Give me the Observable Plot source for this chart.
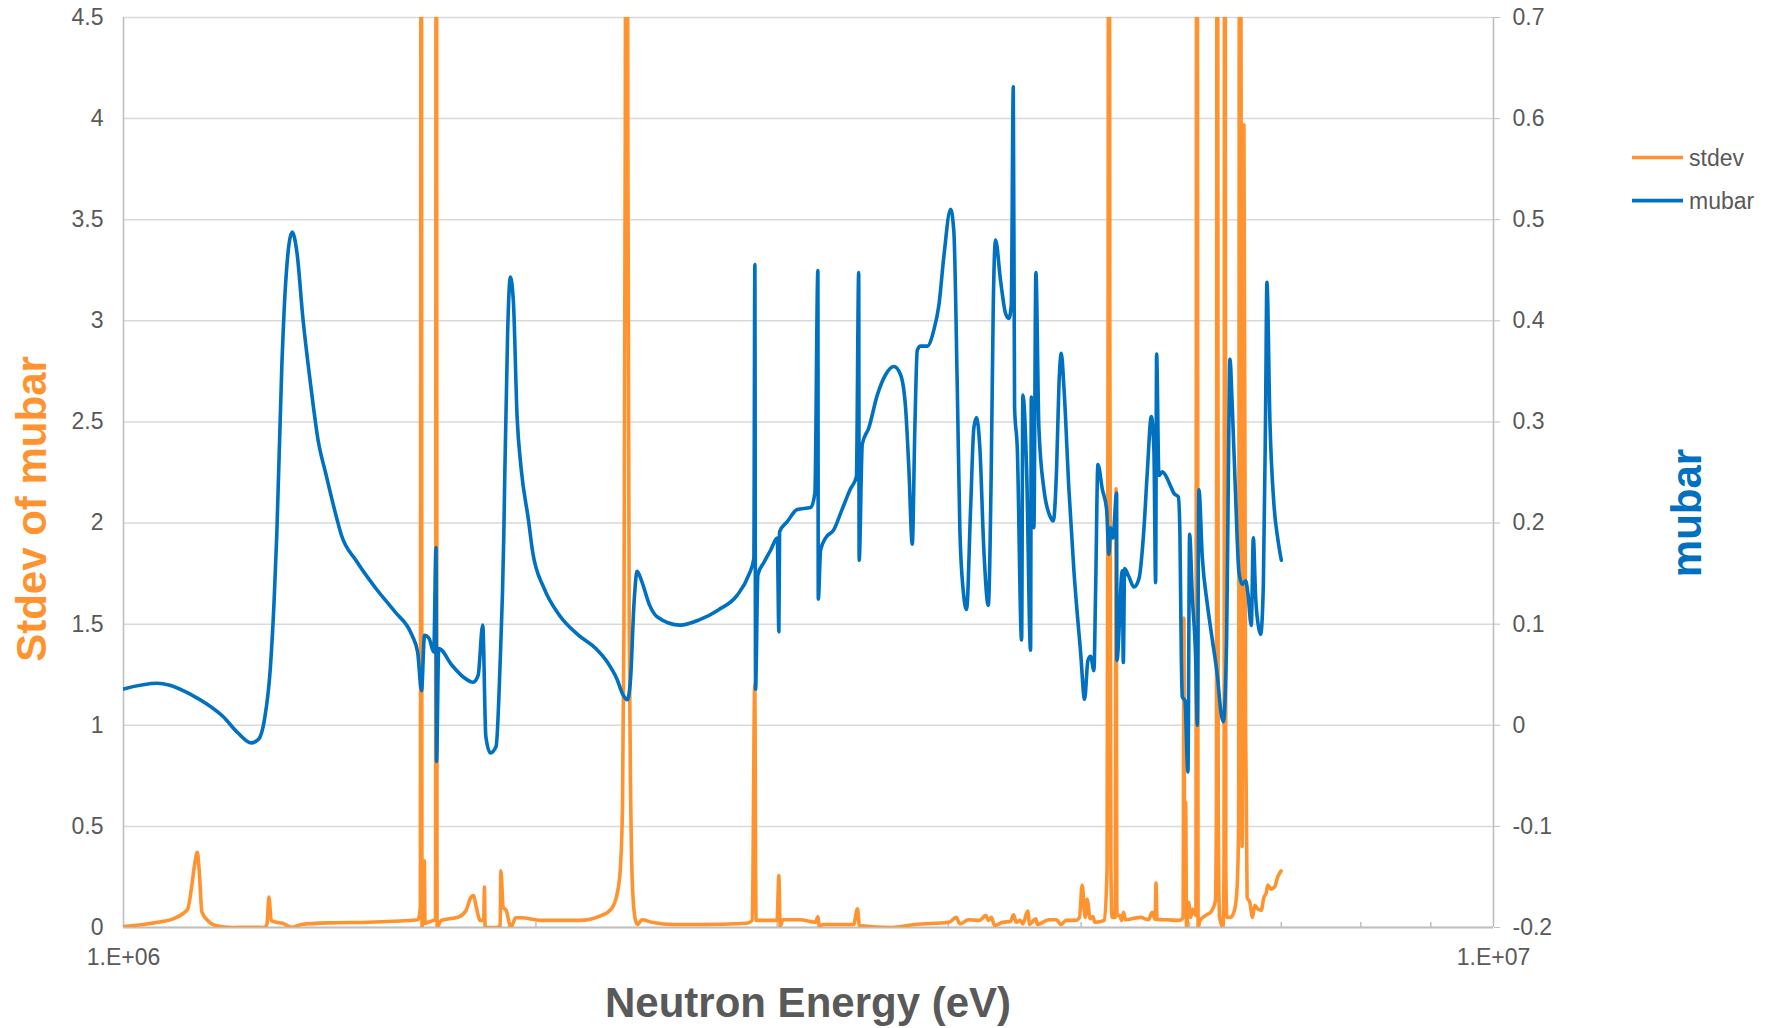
<!DOCTYPE html>
<html>
<head>
<meta charset="utf-8">
<script src="https://cdn.jsdelivr.net/npm/d3@7"></script>
<script src="https://cdn.jsdelivr.net/npm/@observablehq/plot@0.6"></script>
<style>
  html, body { margin: 0; padding: 0; background: #ffffff; }
  #chart svg { display: block; }
</style>
</head>
<body>
<div id="chart"></div>
<script>
// ---------------- DATA ----------------
// mubar series (right axis): neutron energy in MeV and mubar value
const energyMubarMeV = [
  1.0000,1.0586,1.0793,1.1218,1.1511,1.1811,1.2118,1.2394,1.2553,1.2674,
  1.2798,1.2880,1.2939,1.3048,1.3132,1.3277,1.3388,1.3517,1.3693,1.3870,
  1.4050,1.4324,1.4416,1.4792,1.5274,1.5775,1.6238,1.6394,1.6502,1.6585,
  1.6714,1.6844,1.6909,1.6923,1.6986,1.7373,1.7709,1.7997,1.8149,1.8290,
  1.8385,1.8528,1.8706,1.8826,1.8950,1.8985,1.9071,1.9158,1.9255,1.9378,
  1.9505,1.9753,1.9886,2.0271,2.0799,2.1481,2.2118,2.2550,2.2917,2.3138,
  2.3318,2.3439,2.3590,2.3709,2.3893,2.4205,2.4516,2.5483,2.6314,2.7177,
  2.8054,2.8607,2.8848,2.8897,2.8931,2.9043,2.9337,2.9670,3.0006,3.0087,
  3.0122,3.0515,3.1032,3.1734,3.1964,3.2125,3.2147,3.2272,3.2544,3.2991,
  3.3460,3.3930,3.4274,3.4407,3.4433,3.4614,3.5000,3.5498,3.5996,3.6502,
  3.6915,3.7226,3.7434,3.7648,3.7813,3.7966,3.8177,3.8609,3.9040,3.9370,
  3.9702,4.0152,4.0375,4.0606,4.0784,4.1018,4.1246,4.1524,4.1755,4.1945,
  4.2178,4.2463,4.2778,4.2994,4.3139,4.3306,4.3672,4.4041,4.4286,4.4465,
  4.4615,4.4712,4.4916,4.5242,4.5341,4.5624,4.5931,4.5986,4.6187,4.6342,
  4.6576,4.6970,4.7502,4.7718,4.7983,4.8169,4.8364,4.8576,4.8986,4.9399,
  4.9959,5.0296,5.0576,5.0806,5.1089,5.1235,5.1434,5.1815,5.2191,5.2393,
  5.2543,5.2747,5.3076,5.3103,5.3587,5.3677,5.3795,5.4185,5.4642,5.5103,
  5.5568,5.5887,5.6264,5.6510,5.6672,5.6767,5.6987,5.7314,5.7633,5.8119,
  5.8442,5.8876,5.9035,5.9174,5.9273,5.9533,5.9834,6.0005,6.0278,6.0614,
  6.0787,6.0951,6.1300,6.1817,6.2339,6.2865,6.3289,6.3502,6.3855,6.4038,
  6.4210,6.4470,6.4829,6.5189,6.5563,6.5928,6.6183,6.6562,6.6786,6.7045,
  6.7418,6.7611,6.7919,6.8182,6.8331,6.8677,6.9140,6.9606,7.0005
];
const mubar = [
  0.036,0.0415,0.0399,0.0299,0.0209,0.0092,-0.0074,-0.0174,-0.0135,0.0058,
  0.0558,0.1225,0.189,0.3542,0.4367,0.4877,0.4664,0.4037,0.3378,0.2817,
  0.2488,0.2026,0.189,0.1624,0.1358,0.1125,0.0891,0.0725,0.0342,0.0891,
  0.0859,0.0725,0.1758,-0.0358,0.076,0.0591,0.0475,0.0425,0.0493,0.0991,
  -0.0108,-0.0274,-0.0208,0.0558,0.189,0.2553,0.3872,0.4432,0.4202,0.3047,
  0.2553,0.2026,0.1724,0.1358,0.1091,0.0891,0.0759,0.0625,0.0458,0.0309,
  0.0252,0.0425,0.1225,0.1524,0.1424,0.1191,0.1074,0.0991,0.1042,0.1141,
  0.1287,0.1489,0.165,0.4557,0.0358,0.1489,0.161,0.1731,0.1852,0.0924,
  0.1913,0.2014,0.2135,0.2154,0.2296,0.4497,0.1246,0.1731,0.1852,0.1933,
  0.2135,0.2336,0.2458,0.4477,0.163,0.278,0.2943,0.3265,0.3467,0.3548,
  0.3467,0.3143,0.2538,0.1791,0.2943,0.3709,0.375,0.375,0.3911,0.4153,
  0.4638,0.5102,0.488,0.3346,0.1933,0.1327,0.1145,0.2135,0.2943,0.3044,
  0.274,0.1731,0.1186,0.2538,0.4153,0.4799,0.4396,0.4073,0.4024,0.4153,
  0.6314,0.3143,0.274,0.0843,0.3265,0.2538,0.0742,0.3245,0.1954,0.4477,
  0.2943,0.2336,0.2054,0.2022,0.2538,0.3346,0.3678,0.3346,0.2336,0.1529,
  0.0722,0.0257,0.0641,0.0682,0.054,0.1327,0.2579,0.2336,0.2135,0.169,
  0.1954,0.1852,0.2296,0.0641,0.1529,0.0621,0.1549,0.1469,0.1368,0.1448,
  0.1941,0.2506,0.3053,0.2718,0.1411,0.3672,0.2471,0.2506,0.2471,0.2365,
  0.2294,0.2259,0.1906,0.067,0.0281,0.0245,-0.0461,0.1888,0.127,0.067,
  0.0,0.2329,0.1659,0.1199,0.0846,0.0493,0.0104,0.0034,0.0846,0.2435,
  0.3619,0.3142,0.2259,0.1517,0.1394,0.1428,0.1305,0.0987,0.1853,0.127,
  0.0952,0.0899,0.1376,0.3142,0.438,0.3001,0.2184,0.1836,0.1632
];

// stdev series (left axis): neutron energy in MeV and standard deviation of mubar
const energyStdevMeV = [
  1.0000,1.0595,1.0871,1.1048,1.1141,1.1213,1.1264,1.1321,1.1357,1.1409,
  1.1520,1.1668,1.2011,1.2365,1.2670,1.2728,1.2769,1.2818,1.2932,1.3059,
  1.3272,1.3485,1.4152,1.5093,1.6408,1.6469,1.6494,1.6516,1.6580,1.6600,
  1.6675,1.6838,1.6894,1.6917,1.6940,1.7054,1.7555,1.7784,1.7934,1.8012,
  1.8094,1.8211,1.8321,1.8343,1.8364,1.8723,1.8834,1.8856,1.8929,1.9028,
  1.9175,1.9334,1.9521,2.0158,2.1497,2.2343,2.2705,2.2924,2.3044,2.3133,
  2.3191,2.3242,2.3290,2.3341,2.3395,2.3458,2.3525,2.3644,2.3720,2.3905,
  2.4295,2.5248,2.6376,2.8491,2.8770,2.8892,2.8955,2.9996,3.0087,3.0152,
  3.0289,3.1178,3.1990,3.2136,3.2196,3.2407,3.4117,3.4336,3.4446,3.6386,
  3.7813,4.0068,4.0528,4.0795,4.1376,4.2182,4.2588,4.2797,4.3006,4.3223,
  4.3839,4.4409,4.4634,4.4837,4.5133,4.5331,4.5713,4.5860,4.6161,4.6332,
  4.6457,4.7362,4.7971,4.8344,4.8752,4.9540,4.9866,5.0093,5.0346,5.0508,
  5.0772,5.1003,5.1166,5.1998,5.2235,5.2323,5.2393,5.2473,5.2570,5.2667,
  5.2950,5.3030,5.3103,5.3344,5.3523,5.3695,5.3867,5.5269,5.5982,5.6350,
  5.6625,5.6711,5.6806,5.7818,5.8945,5.9353,5.9433,5.9513,5.9603,5.9703,
  5.9904,6.0106,6.0309,6.0644,6.0746,6.0869,6.1064,6.1661,6.2254,6.2664,
  6.2769,6.2865,6.2959,6.3107,6.3469,6.3575,6.3672,6.3769,6.3876,6.4284,
  6.4708,6.4991,6.5154,6.5297,6.5540,6.5738,6.5928,6.6093,6.6394,6.6696,
  6.6955,6.7249,6.7678,6.7986,6.8249,6.8433,6.8779,6.9219,6.9581,6.9980
];
const stdev = [
  0.005,0.026,0.043,0.068,0.092,0.2,0.3,0.372,0.28,0.076,
  0.035,0.01,0.0,0.0015,0.0,0.018,0.15,0.035,0.026,0.021,
  0.0015,0.015,0.023,0.026,0.038,0.1,8,0.0,0.33,0.02,
  0.026,0.035,0.04,8,0.0,0.035,0.051,0.084,0.15,0.158,
  0.1,0.035,0.035,0.2,0.0015,0.0,0.01,0.28,0.1,0.084,
  0.0015,0.048,0.048,0.035,0.035,0.06,0.092,0.166,0.28,0.6,
  1.5,4.0,9,4.0,1.5,0.6,0.2,0.035,0.015,0.038,
  0.026,0.015,0.015,0.021,0.035,1.2,0.035,0.035,0.257,0.005,
  0.038,0.038,0.026,0.054,0.005,0.015,0.015,0.092,0.01,0.0,
  0.015,0.026,0.05,0.018,0.038,0.035,0.06,0.035,0.05,0.01,
  0.026,0.03,0.063,0.026,0.035,0.018,0.081,0.015,0.035,0.043,
  0.015,0.038,0.038,0.015,0.035,0.035,0.05,0.21,0.05,0.14,
  0.043,0.054,0.026,0.035,0.3,3,9,3,0.3,0.05,
  0.05,2.17,0.06,0.06,0.035,0.075,0.038,0.05,0.038,0.075,
  0.04,0.22,0.04,0.038,0.035,0.05,1.53,0.1,0.62,0.0,
  0.125,0.05,0.09,0.06,9,0.0,0.035,0.06,0.08,0.13,
  0.6,9,0.6,0.05,0.0,0.3,9,0.3,0.05,0.05,
  0.085,0.2,0.5,9,0.4,3.97,1.0,0.15,0.125,0.05,
  0.11,0.093,0.085,0.15,0.17,0.21,0.19,0.2,0.25,0.28
];

// axis ticks and labels
const leftTicks = [0, 0.5, 1, 1.5, 2, 2.5, 3, 3.5, 4, 4.5];
const rightTicks = [-0.2, -0.1, 0, 0.1, 0.2, 0.3, 0.4, 0.5, 0.6, 0.7];
const xTicks = [1e6, 1e7];
const xTickLabels = ["1.E+06", "1.E+07"];
const xMinorTicks = [2e6, 3e6, 4e6, 5e6, 6e6, 7e6, 8e6, 9e6];
const seriesNames = ["stdev", "mubar"];
const titles = { x: "Neutron Energy (eV)", yLeft: "Stdev of mubar", yRight: "mubar" };

// ---------------- STYLE / LAYOUT ----------------
const colors = { stdev: "#FF932F", mubar: "#0070C0" };
const textGray = "#595959";
const W = 1777, H = 1028;
const mL = 123, mR = 284, mT = 17, mB = 101;
const fontFamily = "'Liberation Sans', Arial, Helvetica, sans-serif";
const lineWidth = 3.6;

// right (mubar) axis [-0.2, 0.7] mapped onto left axis [0, 4.5]
const rMin = rightTicks[0], rMax = rightTicks[rightTicks.length - 1];
const lMax = leftTicks[leftTicks.length - 1];
const toLeft = m => (m - rMin) / (rMax - rMin) * lMax;
const fromLeft = v => Math.round((v / lMax * (rMax - rMin) + rMin) * 10) / 10;

const stdevData = energyStdevMeV.map((e, i) => ({ E: e * 1e6, v: stdev[i] }));
const mubarData = energyMubarMeV.map((e, i) => ({ E: e * 1e6, v: toLeft(mubar[i]) }));

const chart = Plot.plot({
  width: W,
  height: H,
  marginLeft: mL,
  marginRight: mR,
  marginTop: mT,
  marginBottom: mB,
  style: { fontFamily, fontSize: "23px", color: textGray, background: "#ffffff" },
  x: { type: "log", domain: [xTicks[0], xTicks[1]] },
  y: { domain: [0, lMax] },
  marks: [
    Plot.gridY(leftTicks, { stroke: "#d9d9d9", strokeOpacity: 1, strokeWidth: 1.5 }),
    Plot.ruleX(xTicks, { stroke: "#bfbfbf", strokeWidth: 1.6 }),
    Plot.ruleY([0], { stroke: "#bfbfbf", strokeWidth: 2 }),
    Plot.ruleX(xMinorTicks, { y1: 0, y2: 0.025, stroke: "#bfbfbf", strokeWidth: 1.5 }),
    Plot.axisY(leftTicks, {
      anchor: "left", tickSize: 0, tickPadding: 20, label: null,
      fill: textGray, tickFormat: d => String(d)
    }),
    Plot.axisY(rightTicks.map(toLeft), {
      anchor: "right", tickSize: 6, tickPadding: 13, label: null,
      stroke: "#bfbfbf", fill: textGray, tickFormat: d => String(fromLeft(d))
    }),
    Plot.axisX(xTicks, {
      anchor: "bottom", tickSize: 0, tickPadding: 21, label: null,
      fill: textGray, tickFormat: d => xTickLabels[xTicks.indexOf(d)]
    }),
    Plot.line(stdevData, {
      x: "E", y: "v", stroke: colors.stdev, strokeWidth: lineWidth, curve: "monotone-x",
      strokeLinejoin: "round", strokeLinecap: "round", clip: true
    }),
    Plot.line(mubarData, {
      x: "E", y: "v", stroke: colors.mubar, strokeWidth: lineWidth, curve: "monotone-x",
      strokeLinejoin: "round", strokeLinecap: "round", clip: true
    })
  ]
});

document.getElementById("chart").appendChild(chart);

// ---------------- TITLES & LEGEND ----------------
const svg = d3.select(chart);
const plotCx = mL + (W - mL - mR) / 2;
const plotCy = mT + (H - mT - mB) / 2;

svg.append("text")
  .attr("x", plotCx).attr("y", 1017)
  .attr("text-anchor", "middle")
  .style("font-family", fontFamily).style("font-size", "42px").style("font-weight", "bold")
  .attr("fill", textGray)
  .text(titles.x);

svg.append("text")
  .attr("transform", `translate(46,${plotCy + 37}) rotate(-90)`)
  .attr("text-anchor", "middle")
  .style("font-family", fontFamily).style("font-size", "42px").style("font-weight", "bold")
  .attr("fill", colors.stdev)
  .text(titles.yLeft);

svg.append("text")
  .attr("transform", `translate(1701,${plotCy + 41}) rotate(-90)`)
  .attr("text-anchor", "middle")
  .style("font-family", fontFamily).style("font-size", "42px").style("font-weight", "bold")
  .attr("fill", colors.mubar)
  .text(titles.yRight);

const legendY = [157.5, 200.6];
seriesNames.forEach((name, i) => {
  svg.append("line")
    .attr("x1", 1632).attr("x2", 1683)
    .attr("y1", legendY[i]).attr("y2", legendY[i])
    .attr("stroke", colors[name]).attr("stroke-width", lineWidth);
  svg.append("text")
    .attr("x", 1689).attr("y", legendY[i])
    .attr("dy", "0.35em")
    .attr("text-anchor", "start")
    .style("font-family", fontFamily).style("font-size", "23px")
    .attr("fill", textGray)
    .text(name);
});
</script>
</body>
</html>
